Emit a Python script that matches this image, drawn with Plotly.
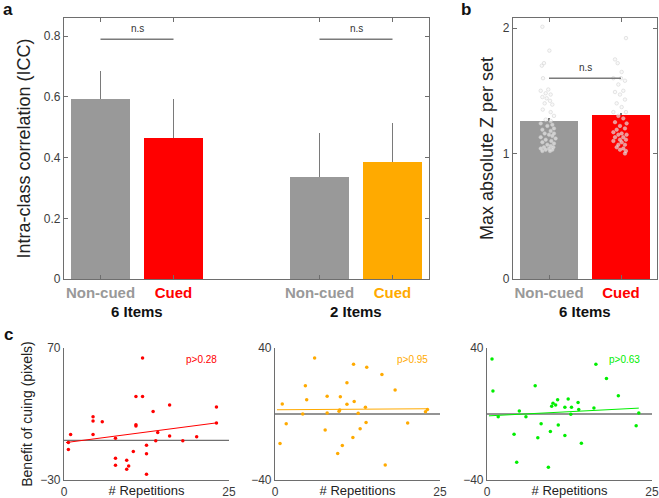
import numpy as np
import plotly.graph_objects as go

# ---- panel a: ICC per condition ----
icc_pos = [1, 2, 4, 5]
icc_labels = ["Non-cued", "Cued", "Non-cued", "Cued"]
icc_mean = [0.592, 0.464, 0.335, 0.387]
icc_upper = [0.687, 0.592, 0.480, 0.515]
icc_groups = ["6 Items", "2 Items"]
icc_ns_y = 0.79

# ---- panel b: max absolute Z per set ----
z_pos = [1, 2]
z_labels = ["Non-cued", "Cued"]
z_group = "6 Items"
z_mean = [1.262, 1.304]
z_err = [0.02, 0.02]
z_ns_y = 1.6
noncued_jit = [-0.092, 0.005, -0.10, -0.07, -0.083, -0.115, -0.01, -0.046, 0.023, -0.092,
               -0.032, 0.014, -0.06, 0.046, -0.087, 0.023, 0.069, -0.046, 0.023, -0.115,
               0.046, -0.023, 0.069, -0.092, 0.023, 0.069, -0.06, 0.0, 0.046, -0.115,
               0.092, -0.046, 0.032, -0.092, 0.069, -0.023, 0.023, -0.07, 0.06, -0.115,
               0.0, -0.046, 0.046, -0.092, 0.014]
noncued_z = [2.01, 1.82, 1.70, 1.72, 1.60, 1.50, 1.51, 1.48, 1.47, 1.45,
             1.44, 1.42, 1.40, 1.39, 1.35, 1.33, 1.30, 1.27, 1.26, 1.24,
             1.23, 1.22, 1.20, 1.19, 1.18, 1.16, 1.16, 1.15, 1.14, 1.13,
             1.12, 1.11, 1.10, 1.09, 1.08, 1.07, 1.06, 1.05, 1.05, 1.04,
             1.04, 1.03, 1.03, 1.02, 1.02]
cued_jit = [0.069, -0.083, -0.046, 0.009, -0.106, 0.0, 0.055, -0.037, 0.032, -0.083,
            -0.014, 0.055, -0.06, 0.009, -0.106, 0.069, -0.037, 0.032, -0.083, 0.078,
            -0.014, 0.055, -0.06, -0.106, 0.009, -0.037, 0.078, -0.083, 0.032, -0.014,
            0.069, -0.106, 0.009, 0.055, -0.037, -0.06, 0.032, -0.014, 0.069, 0.055]
cued_z = [1.92, 1.75, 1.72, 1.65, 1.60, 1.60, 1.58, 1.55, 1.50, 1.49,
          1.47, 1.43, 1.40, 1.37, 1.33, 1.33, 1.30, 1.28, 1.25, 1.24,
          1.22, 1.20, 1.19, 1.17, 1.16, 1.15, 1.15, 1.13, 1.13, 1.11,
          1.11, 1.10, 1.09, 1.07, 1.07, 1.05, 1.04, 1.03, 1.02, 1.00]

# ---- panel c: benefit of cuing vs repetitions ----
six_reps = [0.66, 1.0, 0.66, 4.4, 4.4, 5.8, 4.4, 7.8, 7.8, 7.8, 9.5, 9.5, 9.8, 10.5, 10.9, 11.9,
            11.9, 10.9, 10.9, 12.5, 12.5, 12.5, 13.5, 13.9, 14.2, 16.0, 16.0, 18.0, 20.1, 23.1, 23.1]
six_benefit = [-1.6, 4.5, -6.9, 18.0, 14.7, 14.2, 4.5, 1.7, -13.5, -18.8, -15.0, -21.9, -19.3, -8.4,
               33.2, 33.2, 62.4, 11.9, 10.9, -3.6, -10.2, -25.7, 21.8, -0.3, 6.0, 26.9, 3.3, -0.3,
               2.7, 25.3, 13.2]
two_reps = [0.76, 1.1, 1.7, 4.2, 4.6, 4.8, 6.0, 7.6, 7.9, 7.9, 9.5, 9.7, 9.8, 9.9, 10.2, 10.9,
            10.9, 11.8, 11.9, 12.0, 12.6, 12.9, 13.7, 13.8, 13.9, 16.2, 16.7, 18.2, 20.1, 22.8, 23.1]
two_benefit = [-17.9, 6.1, -5.9, 0.0, 17.1, 8.7, 33.9, -9.7, 0.6, 10.8, -24.0, 1.6, 2.4, 10.4,
               -19.1, 5.9, 18.9, -14.2, 30.1, 7.5, 0.4, -8.9, 4.1, -5.1, 28.4, 24.0, -30.9, 14.6,
               -5.5, 1.4, 2.8]
six_b_reps = [0.76, 0.9, 1.7, 4.1, 4.5, 4.9, 5.9, 7.3, 7.7, 8.2, 9.3, 9.6, 9.8, 10.0, 10.4, 10.7,
              10.8, 11.8, 11.8, 12.3, 12.7, 12.8, 14.3, 13.8, 13.9, 16.2, 16.5, 18.1, 19.9, 22.6, 23.0]
six_b_benefit = [33.3, 14.0, -1.6, -12.2, -29.2, 1.8, -1.6, 17.1, -14.4, -5.9, -32.3, -10.6, 4.7,
                 6.5, 5.5, 8.7, -6.7, 4.1, -13.0, 9.1, -0.2, 4.1, -17.7, 6.9, 2.8, 3.7, 30.1,
                 21.5, 11.0, -7.1, 0.6]
p_labels = ["p>0.28", "p>0.95", "p>0.63"]

FONT = "Arial, Liberation Sans, sans-serif"
AXIS = "#6e6e6e"
TICK = "#3c3c3c"
GRAY = "#999999"
RED = "#ff0000"
ORANGE = "#ffaa00"
GREEN = "#00ee00"
W, H = 659, 498


def px_dom(a, b):
    return [a / W, b / W]


def py_dom(top, bottom):
    return [1 - bottom / H, 1 - top / H]


def span(txt, col):
    return f'<b><span style="color:{col}">{txt}</span></b>'


fig = go.Figure()

# panel a bars
a_cols = [GRAY, RED, GRAY, ORANGE]
fig.add_trace(go.Bar(
    x=icc_pos, y=icc_mean, width=0.8, marker_color=a_cols, marker_line_width=0,
    error_y=dict(type="data", symmetric=False,
                 array=[u - m for u, m in zip(icc_upper, icc_mean)],
                 arrayminus=[0] * 4, color="#7a7a7a", thickness=1.5, width=0),
    xaxis="x", yaxis="y", showlegend=False))
for x0, x1 in [(icc_pos[0], icc_pos[1]), (icc_pos[2], icc_pos[3])]:
    fig.add_trace(go.Scatter(x=[x0, x1], y=[icc_ns_y, icc_ns_y], mode="lines",
                             line=dict(color="#7a7a7a", width=1.3),
                             xaxis="x", yaxis="y", showlegend=False))
    fig.add_annotation(x=(x0 + x1) / 2, y=icc_ns_y, xref="x", yref="y", text="n.s",
                       showarrow=False, yanchor="bottom", yshift=3,
                       font=dict(size=10, color="#333"))

# panel b bars + points
fig.add_trace(go.Bar(
    x=z_pos, y=z_mean, width=0.8, marker_color=[GRAY, RED], marker_line_width=0,
    error_y=dict(type="data", symmetric=False, array=z_err, arrayminus=[0, 0],
                 color="#7a7a7a", thickness=1.5, width=0),
    xaxis="x2", yaxis="y2", showlegend=False))
for pos, jit, vals in [(z_pos[0], noncued_jit, noncued_z), (z_pos[1], cued_jit, cued_z)]:
    fig.add_trace(go.Scatter(
        x=[pos + j for j in jit], y=vals, mode="markers",
        marker=dict(size=3.5, color="rgba(245,245,245,0.6)",
                    line=dict(color="rgba(205,205,205,0.85)", width=0.6)),
        xaxis="x2", yaxis="y2", showlegend=False))
fig.add_trace(go.Scatter(x=z_pos, y=[z_ns_y, z_ns_y], mode="lines",
                         line=dict(color="#7a7a7a", width=1.3),
                         xaxis="x2", yaxis="y2", showlegend=False))
fig.add_annotation(x=1.5, y=z_ns_y, xref="x2", yref="y2", text="n.s", showarrow=False,
                   yanchor="bottom", yshift=3, font=dict(size=10, color="#333"))

# panel c scatter + fits
c_sets = [(six_reps, six_benefit, RED, "3"),
          (two_reps, two_benefit, ORANGE, "4"),
          (six_b_reps, six_b_benefit, GREEN, "5")]
for (xs, ys, col, ax), ptxt in zip(c_sets, p_labels):
    fig.add_trace(go.Scatter(x=xs, y=ys, mode="markers",
                             marker=dict(size=3.5, color=col),
                             xaxis="x" + ax, yaxis="y" + ax, showlegend=False))
    k, b = np.polyfit(xs, ys, 1)
    fx = np.array([0.3, max(xs)])
    fig.add_trace(go.Scatter(x=fx, y=k * fx + b, mode="lines",
                             line=dict(color=col, width=1),
                             xaxis="x" + ax, yaxis="y" + ax, showlegend=False))
    fig.add_shape(type="line", xref=f"x{ax} domain", x0=0, x1=1, yref="y" + ax, y0=0, y1=0,
                  line=dict(color="#707070", width=1.3), layer="below")
    fig.add_annotation(x=0.94, y=0.97, xref=f"x{ax} domain", yref=f"y{ax} domain",
                       text=ptxt, showarrow=False, xanchor="right", yanchor="top",
                       font=dict(size=10, color=col))

common = dict(showline=True, linecolor=AXIS, linewidth=1.2, ticks="inside", ticklen=4,
              tickcolor=AXIS, showgrid=False, zeroline=False, automargin=False,
              tickfont=dict(size=12, color=TICK, family=FONT))

a_cols_lbl = [GRAY, RED, GRAY, ORANGE]
fig.update_layout(
    width=W, height=H, margin=dict(l=0, r=0, t=0, b=0, autoexpand=False),
    plot_bgcolor="white", paper_bgcolor="white",
    font=dict(family=FONT), bargap=0,
    xaxis=dict(common, domain=px_dom(64, 429), range=[0.5, 5.5], mirror="ticks",
               tickvals=icc_pos, ticktext=[span(t, c) for t, c in zip(icc_labels, a_cols_lbl)],
               tickfont=dict(size=15, family=FONT)),
    yaxis=dict(common, domain=py_dom(18, 279), range=[0, 0.86], mirror="ticks",
               tickvals=[0, 0.2, 0.4, 0.6, 0.8], ticktext=["0", "0.2", "0.4", "0.6", "0.8"],
               title=dict(text="Intra-class correlation (ICC)", standoff=8,
                          font=dict(size=18, color="#222"))),
    xaxis2=dict(common, domain=px_dom(513, 657), range=[0.5, 2.5], mirror="ticks",
                tickvals=z_pos, ticktext=[span(t, c) for t, c in zip(z_labels, [GRAY, RED])],
                tickfont=dict(size=15, family=FONT), anchor="y2"),
    yaxis2=dict(common, domain=py_dom(18, 279), range=[0, 2.08], mirror="ticks",
                tickvals=[0, 1, 2], anchor="x2",
                title=dict(text="Max absolute Z per set", standoff=4,
                           font=dict(size=18, color="#222"))),
)

c_x = [(64, 229), (275, 440), (487, 652)]
c_y = [(-30, 70), (-40, 40), (-40, 40)]
for i, ((x0, x1), (ylo, yhi)) in enumerate(zip(c_x, c_y)):
    n = str(i + 3)
    fig.layout["xaxis" + n] = dict(common, domain=px_dom(x0, x1), range=[0, 25],
                                   tickvals=[0, 25], anchor="y" + n,
                                   title=dict(text="# Repetitions",
                                              font=dict(size=13, color="#222")))
    ydict = dict(common, domain=py_dom(348, 480), range=[ylo, yhi],
                 tickvals=[ylo, yhi], anchor="x" + n)
    if i == 0:
        ydict["title"] = dict(text="Benefit of cuing (pixels)", standoff=4,
                              font=dict(size=14, color="#222"))
    fig.layout["yaxis" + n] = ydict

# group labels under panel a/b and panel letters
for xv, txt, ax in [(1.5, icc_groups[0], "x"), (4.5, icc_groups[1], "x"), (1.5, z_group, "x2")]:
    fig.add_annotation(x=xv, y=1 - 311 / H, xref=ax, yref="paper", text=f"<b>{txt}</b>",
                       showarrow=False, font=dict(size=15, color="#111"))
for lx, ly, letter in [(8, 9, "a"), (466, 9, "b"), (8, 334, "c")]:
    fig.add_annotation(x=lx / W, y=1 - ly / H, xref="paper", yref="paper",
                       xanchor="center", yanchor="middle",
                       text=f"<b>{letter}</b>", showarrow=False,
                       font=dict(size=17, color="#111"))

fig.write_html("out.html", config={"displayModeBar": False},
               post_script="document.body.style.margin='0';")
